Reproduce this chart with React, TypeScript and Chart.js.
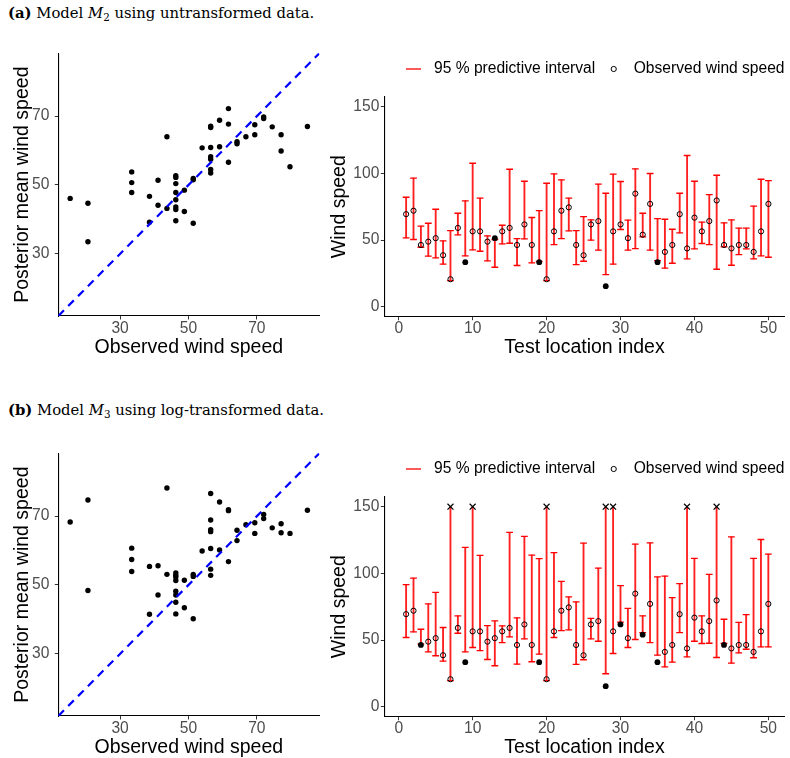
import React, { useEffect, useRef } from "react";
import { Chart, registerables } from "chart.js";

Chart.register(...registerables);

// ---------------- data ----------------
const locationIndex = [
  1, 2, 3, 4, 5, 6, 7, 8, 9, 10, 11, 12, 13, 14, 15, 16, 17, 18, 19, 20, 21, 22, 23, 24, 25,
  26, 27, 28, 29, 30, 31, 32, 33, 34, 35, 36, 37, 38, 39, 40, 41, 42, 43, 44, 45, 46, 47, 48, 49, 50,
];

const observedSpeed = [
  69.4, 72.0, 46.3, 48.8, 51.4, 38.6, 20.6, 59.1, 33.4, 56.5,
  56.5, 48.8, 51.4, 56.5, 59.1, 46.3, 61.7, 46.3, 33.4, 20.6,
  56.5, 72.0, 74.5, 46.3, 38.6, 61.7, 64.2, 15.4, 56.5, 61.7,
  51.4, 84.8, 54.0, 77.1, 33.4, 41.1, 46.3, 69.4, 43.7, 66.8,
  56.5, 64.2, 79.7, 46.3, 43.7, 46.3, 46.3, 41.1, 56.5, 77.1,
];

// Model M2 (untransformed) 95 % predictive interval
const m2Lower = [
  51.6, 50.4, 44.6, 37.9, 36.6, 31.9, 19.6, 53.9, 38.1, 42.6,
  41.6, 34.4, 29.6, 47.1, 47.6, 30.9, 50.9, 32.9, 34.0, 19.6,
  46.6, 51.1, 56.9, 31.6, 34.1, 49.9, 42.4, 24.1, 31.9, 57.9,
  42.4, 43.6, 52.4, 42.4, 34.6, 28.9, 32.6, 55.4, 35.9, 43.4,
  47.4, 46.6, 28.1, 44.9, 31.1, 39.1, 43.4, 35.9, 38.1, 37.1,
];
const m2Upper = [
  82.1, 96.4, 60.4, 62.6, 73.1, 49.4, 57.1, 70.1, 79.4, 107.6,
  81.4, 53.1, 50.4, 61.1, 103.1, 51.1, 94.1, 66.9, 72.1, 92.6,
  99.6, 95.1, 81.4, 57.1, 67.6, 65.1, 91.9, 85.1, 99.4, 93.9,
  64.9, 103.4, 70.1, 99.9, 66.1, 65.6, 58.1, 85.1, 113.4, 94.1,
  63.4, 84.1, 98.6, 62.9, 65.1, 58.9, 58.9, 75.4, 95.6, 94.6,
];

// Model M3 (log-transformed) 95 % predictive interval; null = above the axis limit
const m3Lower = [
  51.9, 56.1, 47.0, 41.1, 38.2, 34.2, 19.5, 55.1, 41.1, 44.4,
  42.1, 35.4, 30.7, 48.1, 52.4, 31.9, 50.9, 33.7, 39.4, 19.5,
  51.9, 57.1, 57.6, 31.7, 35.2, 50.9, 49.1, 24.7, 39.9, 63.5,
  44.4, 50.4, 55.5, 48.1, 38.7, 29.9, 33.4, 55.6, 37.4, 49.1,
  47.4, 47.6, 36.9, 47.5, 32.7, 40.4, 43.1, 36.7, 44.9, 44.9,
];
const m3Upper = [
  91.5, 96.5, 58.1, 77.1, 85.8, 59.4, null, 68.1, 119.5, null,
  113.5, 60.8, 64.3, 60.6, 130.7, 66.6, 127.7, 113.7, 111.0, null,
  115.5, 94.0, 82.3, 78.6, 122.7, 66.3, 104.0, null, null, 90.8,
  73.8, 121.9, 68.1, 122.9, 97.3, 98.0, 81.8, 92.3, null, 111.2,
  68.1, 99.3, null, 65.6, 127.4, 63.3, 69.1, 111.2, 125.4, 114.5,
];

// Scatter: observed (sorted) vs posterior mean
const scatterObserved = [
  15.4, 20.6, 20.6, 33.4, 33.4, 33.4, 38.6, 38.6, 41.1, 41.1,
  43.7, 43.7, 46.3, 46.3, 46.3, 46.3, 46.3, 46.3, 46.3, 46.3,
  48.8, 48.8, 51.4, 51.4, 51.4, 54.0, 56.5, 56.5, 56.5, 56.5,
  56.5, 56.5, 56.5, 59.1, 59.1, 61.7, 61.7, 61.7, 64.2, 64.2,
  66.8, 69.4, 69.4, 72.0, 72.0, 74.5, 77.1, 77.1, 79.7, 84.8,
];
const m2PosteriorMean = [
  46.1, 44.7, 33.5, 53.8, 50.7, 47.8, 46.7, 39.2, 51.4, 44.1,
  64.0, 43.2, 52.7, 52.2, 50.4, 47.8, 45.7, 43.6, 42.9, 39.6,
  48.5, 42.3, 51.5, 51.9, 38.9, 60.8, 67.1, 66.7, 60.9, 58.2,
  57.5, 54.5, 53.5, 68.8, 61.1, 72.2, 67.7, 56.6, 62.6, 62.0,
  64.0, 67.5, 64.6, 69.8, 69.3, 66.9, 64.6, 59.9, 55.3, 67.0,
];
const m3PosteriorMean = [
  68.3, 74.7, 48.4, 60.7, 57.4, 53.9, 55.4, 41.5, 55.6, 47.1,
  78.2, 53.1, 53.5, 52.8, 52.3, 51.3, 48.2, 47.1, 45.0, 41.6,
  51.4, 43.4, 53.1, 52.5, 40.2, 59.9, 76.6, 68.9, 66.1, 65.5,
  60.6, 54.6, 52.8, 74.1, 60.2, 71.9, 71.6, 56.8, 65.9, 62.9,
  67.5, 68.1, 65.0, 70.5, 69.3, 66.6, 67.8, 65.2, 65.0, 71.7,
];

const scatterTicks = [30, 50, 70];
const speedTicks = [0, 50, 100, 150];
const indexTicks = [0, 10, 20, 30, 40, 50];
const legendLabels = ["95 % predictive interval", "Observed wind speed"];

// ---------------- styling constants ----------------
const SANS = '"Liberation Sans", Arial, Helvetica, sans-serif';
const SERIF = '"DejaVu Serif", "Liberation Serif", serif';
const TICK_SIZE = 15.6;
const TITLE_SIZE = 19.5;
const SCATTER_LIM = { min: 11.93, max: 88.27 };
const SPEED_LIM = { min: -7.5, max: 157.5 };
const INDEX_LIM = { min: -1.95, max: 52.2 };
const CLIP_VALUE = 150;

Chart.defaults.font.family = SANS;

function axisCommon(
  ticks: number[],
  title: string,
  tickPadding: number,
  titlePadding: any,
  fitSize: number,
  horizontal: boolean
) {
  return {
    type: "linear" as const,
    offset: false,
    afterBuildTicks: (s: any) => {
      s.ticks = ticks.map((value) => ({ value }));
    },
    afterFit: (s: any) => {
      if (horizontal) s.height = fitSize;
      else s.width = fitSize;
    },
    grid: {
      display: true,
      drawOnChartArea: false,
      drawTicks: true,
      tickLength: 3.5,
      color: "#333333",
      lineWidth: 1,
      offset: false,
    },
    border: { display: true, color: "#000000", width: 1.1 },
    ticks: {
      color: "#4D4D4D",
      font: { family: SANS, size: TICK_SIZE, lineHeight: 1 },
      padding: tickPadding,
      maxRotation: 0,
      autoSkip: false,
    },
    title: {
      display: true,
      text: title,
      color: "#000000",
      font: { family: SANS, size: TITLE_SIZE, lineHeight: 1 },
      padding: titlePadding,
    },
  };
}

function ScatterPanel(props: { mean: number[]; left: number; top: number }) {
  const ref = useRef<HTMLCanvasElement>(null);
  useEffect(() => {
    const chart = new Chart(ref.current as HTMLCanvasElement, {
      type: "scatter",
      data: {
        datasets: [
          {
            type: "line",
            data: [
              { x: SCATTER_LIM.min, y: SCATTER_LIM.min },
              { x: SCATTER_LIM.max, y: SCATTER_LIM.max },
            ],
            borderColor: "#0000FF",
            borderWidth: 2.2,
            borderDash: [8, 6],
            pointRadius: 0,
            order: 0,
          } as any,
          {
            data: scatterObserved.map((x, i) => ({ x, y: props.mean[i] })),
            pointRadius: 2.7,
            pointStyle: "circle",
            backgroundColor: "#000000",
            borderWidth: 0,
            order: 1,
          },
        ],
      },
      options: {
        responsive: false,
        animation: false,
        events: [],
        layout: { padding: { top: 13.3, right: 10.7, bottom: 0, left: 0 } },
        plugins: { legend: { display: false }, tooltip: { enabled: false } },
        scales: {
          x: {
            ...axisCommon(scatterTicks, "Observed wind speed", 1, { top: 0, bottom: 2.3 }, 44, true),
            ...SCATTER_LIM,
          },
          y: {
            ...axisCommon(scatterTicks, "Posterior mean wind speed", 5.5, { top: 12.6, bottom: 0 }, 58.3, false),
            ...SCATTER_LIM,
          },
        } as any,
      },
    });
    return () => chart.destroy();
  }, []);
  return (
    <canvas
      ref={ref}
      width={330}
      height={320}
      style={{ position: "absolute", left: props.left, top: props.top, display: "block" }}
    />
  );
}

const legendPlugin = {
  id: "ggLegend",
  afterDraw(chart: any) {
    const ctx = chart.ctx as CanvasRenderingContext2D;
    const y = 19;
    ctx.save();
    ctx.font = `${TICK_SIZE}px ${SANS}`;
    ctx.textBaseline = "middle";
    ctx.textAlign = "left";
    ctx.strokeStyle = "#FF0000";
    ctx.lineWidth = 1.3;
    ctx.beginPath();
    ctx.moveTo(76, y);
    ctx.lineTo(91, y);
    ctx.stroke();
    ctx.fillStyle = "#000000";
    ctx.fillText(legendLabels[0], 104, y);
    const w0 = ctx.measureText(legendLabels[0]).width;
    const cx = 104 + w0 + 18.5;
    ctx.beginPath();
    ctx.arc(cx, y, 2.6, 0, Math.PI * 2);
    ctx.strokeStyle = "#000000";
    ctx.lineWidth = 1;
    ctx.stroke();
    ctx.fillText(legendLabels[1], cx + 20, y);
    ctx.restore();
  },
};

function IntervalPanel(props: {
  lower: number[];
  upper: (number | null)[];
  left: number;
  top: number;
}) {
  const ref = useRef<HTMLCanvasElement>(null);
  useEffect(() => {
    const { lower, upper } = props;
    const inside = (i: number) => {
      const hi = upper[i] === null ? Infinity : (upper[i] as number);
      return observedSpeed[i] >= lower[i] && observedSpeed[i] <= hi;
    };
    const openPts: any[] = [];
    const filledPts: any[] = [];
    locationIndex.forEach((x, i) => {
      (inside(i) ? openPts : filledPts).push({ x, y: observedSpeed[i] });
    });
    const caps: any[] = [];
    const clipped: any[] = [];
    locationIndex.forEach((x, i) => {
      caps.push({ x, y: lower[i] });
      if (upper[i] === null) clipped.push({ x, y: CLIP_VALUE });
      else caps.push({ x, y: upper[i] });
    });
    const chart = new Chart(ref.current as HTMLCanvasElement, {
      type: "scatter",
      data: {
        datasets: [
          {
            data: openPts,
            pointStyle: "circle",
            pointRadius: 2.6,
            borderColor: "#000000",
            borderWidth: 1,
            backgroundColor: "rgba(0,0,0,0)",
            order: 0,
          },
          {
            data: filledPts,
            pointStyle: "circle",
            pointRadius: 2.9,
            backgroundColor: "#000000",
            borderWidth: 0,
            order: 0,
          },
          {
            data: clipped,
            pointStyle: "crossRot",
            pointRadius: 4.2,
            borderColor: "#000000",
            borderWidth: 1.2,
            order: 0,
          },
          {
            data: caps,
            pointStyle: "line",
            pointRadius: 3.4,
            borderColor: "#FF0000",
            borderWidth: 1.3,
            order: 1,
          },
          {
            type: "bar",
            data: locationIndex.map((x, i) => ({
              x,
              y: [lower[i], upper[i] === null ? CLIP_VALUE : upper[i]],
            })),
            backgroundColor: "#FF2020",
            borderWidth: 0,
            barThickness: 1.2,
            grouped: false,
            order: 2,
          } as any,
        ],
      },
      options: {
        responsive: false,
        animation: false,
        events: [],
        layout: { padding: { top: 46.7, right: 0, bottom: 0, left: 0 } },
        plugins: { legend: { display: false }, tooltip: { enabled: false } },
        scales: {
          x: {
            ...axisCommon(indexTicks, "Test location index", 1, { top: 0, bottom: 2.3 }, 43.3, true),
            ...INDEX_LIM,
          },
          y: {
            ...axisCommon(speedTicks, "Wind speed", 1.5, { top: 0, bottom: 0 }, 54.3, false),
            ...SPEED_LIM,
          },
        } as any,
      },
      plugins: [legendPlugin],
    });
    return () => chart.destroy();
  }, []);
  return (
    <canvas
      ref={ref}
      width={460}
      height={310}
      style={{ position: "absolute", left: props.left, top: props.top, display: "block" }}
    />
  );
}

const captionStyle: React.CSSProperties = {
  position: "absolute",
  left: 8,
  fontFamily: SERIF,
  fontSize: 14.8,
  lineHeight: "20px",
  color: "#000",
  whiteSpace: "nowrap",
};
const subStyle: React.CSSProperties = {
  fontSize: "0.7em",
  verticalAlign: "-0.25em",
  lineHeight: 0,
};

export default function App() {
  return (
    <div
      style={{
        position: "absolute",
        left: 0,
        top: 0,
        width: 790,
        height: 758,
        overflow: "hidden",
        background: "#ffffff",
      }}
    >
      <div style={{ ...captionStyle, top: 2.5 }}>
        <b>(a)</b> Model <i>M</i>
        <sub style={subStyle}>2</sub> using untransformed data.
      </div>
      <ScatterPanel mean={m2PosteriorMean} left={0} top={40} />
      <IntervalPanel lower={m2Lower} upper={m2Upper} left={330} top={50} />
      <div style={{ ...captionStyle, top: 399.5 }}>
        <b>(b)</b> Model <i>M</i>
        <sub style={subStyle}>3</sub> using log-transformed data.
      </div>
      <ScatterPanel mean={m3PosteriorMean} left={0} top={440} />
      <IntervalPanel lower={m3Lower} upper={m3Upper} left={330} top={450} />
    </div>
  );
}
